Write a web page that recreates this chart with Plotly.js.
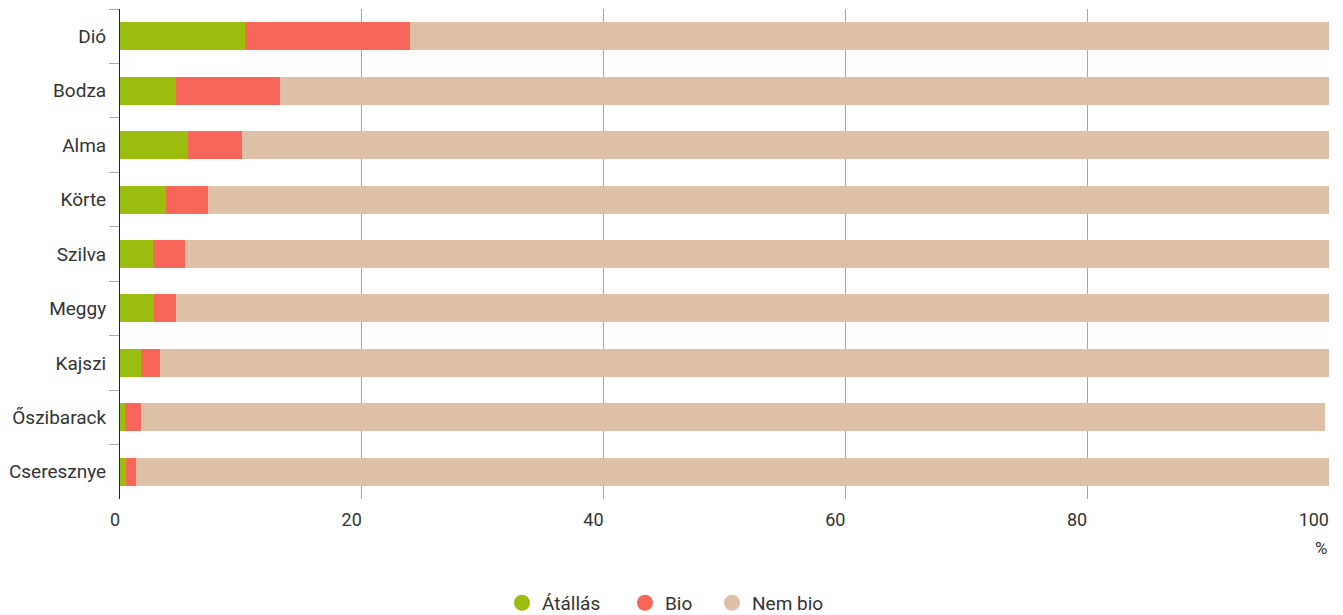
<!DOCTYPE html>
<html>
<head>
<meta charset="utf-8">
<script src="https://cdn.plot.ly/plotly-3.0.1.min.js"></script>
<style>html,body{margin:0;padding:0;background:#fff;}#chart{width:1343px;height:615px;}</style>
</head>
<body>
<div id="chart"></div>
<script>
const categories = ["Dió","Bodza","Alma","Körte","Szilva","Meggy","Kajszi","Őszibarack","Cseresznye"];
const atallas = [10.3, 4.6, 5.6, 3.8, 2.7, 2.8, 1.7, 0.4, 0.5];
const bio     = [13.7, 8.6, 4.5, 3.5, 2.7, 1.8, 1.6, 1.3, 0.8];
const nembio  = [76.0, 86.8, 89.9, 92.7, 94.6, 95.4, 96.7, 98.0, 98.7];
const seriesNames = ["Átállás","Bio","Nem bio"];
const colors = ["#9abd0f","#f8665a","#ddc0a6"];
const xTicks = [0,20,40,60,80,100];

const values = [atallas, bio, nembio];
const legendIds = ["legend","legend2","legend3"];
const traces = [];
values.forEach((v,i)=>{
  traces.push({type:"bar", orientation:"h", y:categories, x:v, name:seriesNames[i],
    marker:{color:colors[i]}, showlegend:false, hoverinfo:"x+name"});
});
seriesNames.forEach((n,i)=>{
  traces.push({type:"scatter", mode:"markers", x:[null], y:[null], name:n, legend:legendIds[i],
    marker:{color:colors[i], size:17, symbol:"circle"}, showlegend:true});
});

const legendX = [0.316, 0.4177, 0.4897];
const layout = {
  width:1343, height:615,
  margin:{l:120, r:14, t:8.5, b:116, autoexpand:false},
  barmode:"stack", bargap:0.486,
  paper_bgcolor:"#fff", plot_bgcolor:"#fff",
  font:{family:"Roboto, sans-serif", size:18, color:"#333"},
  xaxis:{range:[0,100], tickvals:xTicks, ticktext:xTicks.map(String), showgrid:true,
    gridcolor:"#a6a6a6", gridwidth:1, zeroline:false, showline:false, ticks:"",
    ticklabelposition:"outside left", ticklabelstandoff:8, tickfont:{size:18,color:"#333"}, fixedrange:true, automargin:false},
  yaxis:{type:"category", autorange:"reversed", showline:true, linecolor:"#222", linewidth:1,
    ticks:"outside", ticklen:10, tickcolor:"#aaa", tickson:"boundaries", showgrid:false,
    ticklabelstandoff:9, tickfont:{size:19,color:"#333"}, fixedrange:true, automargin:false},
  annotations:[{text:"%", xref:"paper", yref:"paper", x:1, xanchor:"right", y:-0.1, yanchor:"middle",
    showarrow:false, font:{size:17,color:"#333"}}]
};
legendIds.forEach((id,i)=>{
  layout[id] = {orientation:"h", x:legendX[i], xanchor:"left", y:-0.212, yanchor:"middle",
    font:{size:19,color:"#333"}, bgcolor:"rgba(0,0,0,0)"};
});
Plotly.newPlot("chart", traces, layout, {displayModeBar:false, staticPlot:true});
</script>
</body>
</html>
